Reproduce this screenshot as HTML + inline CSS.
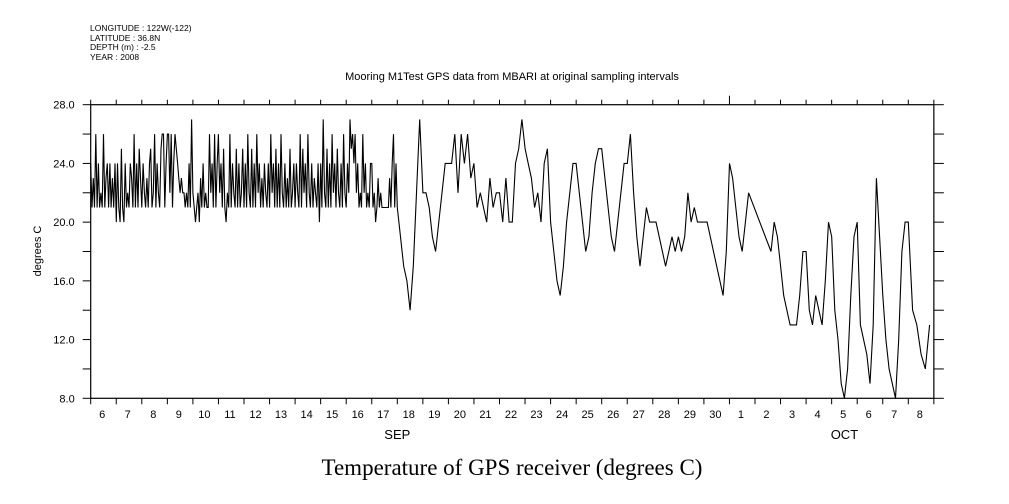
<!DOCTYPE html>
<html><head><meta charset="utf-8"><style>
body{margin:0;background:#fff;}
svg{display:block;font-family:"Liberation Sans",sans-serif;}
</style></head><body>
<svg width="1009" height="504" viewBox="0 0 1009 504">
<g font-size="8.5" fill="#000">
<text x="90" y="31">LONGITUDE : 122W(-122)</text>
<text x="90" y="41">LATITUDE : 36.8N</text>
<text x="90" y="50">DEPTH (m) : -2.5</text>
<text x="90" y="60">YEAR : 2008</text>
</g>
<text x="512" y="80" font-size="11" text-anchor="middle">Mooring M1Test GPS data from MBARI at original sampling intervals</text>
<text x="0" y="0" font-size="11" text-anchor="middle" transform="translate(41,251) rotate(-90)">degrees C</text>
<text x="512" y="475" font-family="Liberation Serif, serif" font-size="23" text-anchor="middle">Temperature of GPS receiver (degrees C)</text>
<g id="axes"></g>
<path id="series" fill="none" stroke="#000" stroke-width="1.1"/>
</svg>
<script>
const yTicks=[8,12,16,20,24,28];
const dayLabels=['6','7','8','9','10','11','12','13','14','15','16','17','18','19','20','21','22','23','24','25','26','27','28','29','30','1','2','3','4','5','6','7','8'];
const monthLabels=['SEP','OCT'];
const monthDays=[12,29.5];
const dailyTemps=[
[24,21,23,21,26,21,24,21,22,21,26,21,23,24,21,24,21,23,21,24],
[20,24,21,20,25,21,20,24,21,22,21,24,23,21,26,21,24,21,25,23],
[21,24,22,21,23,21,24,25,21,22,26,21,24,22,21,25,26,26,21,24],
[26,26,22,26,21,24,26,25,24,23,22,23,22,22,21,22,21,24,21,27],
[22,21,20,21,22,20,23,21,24,21,22,21,21,26,22,24,21,26,21,24],
[26,22,24,21,25,21,20,22,21,26,21,24,22,21,25,21,24,21,22,25],
[21,24,21,26,22,21,25,21,24,21,26,22,24,21,23,21,24,22,21,24],
[21,26,22,24,21,25,21,24,21,26,22,21,24,21,23,21,25,21,22,24],
[21,24,22,21,26,21,25,22,24,21,26,22,21,24,21,23,22,21,24,20],
[24,21,27,22,21,25,21,24,21,26,22,24,21,25,22,21,24,21,26,22],
[21,24,22,27,25,26,24,26,22,24,21,22,21,26,22,24,21,22,21,24],
[24,21,22,20,21,23,21,22,21,21,21,21,21,21,23,21,24,26,21,24],
[21,19,17,16,14,17,22,27],
[22,22,21,19,18,20,22,24],
[24,24,26,22,26,24,26,23],
[24,21,22,21,20,23,21,22],
[22,20,23,20,20,24,25,27],
[25,24,23,21,22,20,24,25],
[20,18,16,15,17,20,22,24],
[24,22,20,18,19,22,24,25],
[25,23,21,19,18,20,22,24],
[24,26,22,19,17,19,21,20],
[20,20,19,18,17,18,19,18],
[19,18,19,22,20,21,20,20],
[20,20,19,18,17,16,15,18],
[24,23,21,19,18,20,22,null],
[null,null,null,null,null,18,20,19],
[17,15,14,13,13,13,15,18],
[18,14,13,15,14,13,16,20],
[19,14,12,9,8,10,15,19],
[20,13,12,11,9,13,23,19],
[15,12,10,9,8,12,18,20],
[20,14,13,11,10,13]
];
const X0=90.7,DX=25.55,Y0=398.3,DY=14.68;
const xs=t=>X0+DX*t;
const ys=v=>Y0-(v-8)*DY;
const NS='http://www.w3.org/2000/svg';
const ax=document.getElementById('axes');
function mk(tag,attrs,parent){const e=document.createElementNS(NS,tag);for(const k in attrs)e.setAttribute(k,attrs[k]);(parent||ax).appendChild(e);return e;}
const L=xs(0),R=xs(33),T=ys(28),B=ys(8);
const frame=mk('rect',{x:L,y:T,width:R-L,height:B-T,fill:'none',stroke:'#000','stroke-width':1.2});


for(let v=8;v<=28;v+=2){
 const y=ys(v);
 const a=mk('line',{x1:L-8,x2:L,y1:y,y2:y,stroke:'#000'});
 
 
 const b=mk('line',{x1:R,x2:R+10,y1:y,y2:y,stroke:'#000'});
 
 
}
yTicks.forEach(v=>{
 const t=mk('text',{x:L-16,y:ys(v)+4,'font-size':11,'text-anchor':'end'});
 t.textContent=v.toFixed(1);
 
 
});
for(let d=0;d<=33;d++){
 const x=xs(d);
 const a=mk('line',{x1:x,x2:x,y1:B,y2:B+6,stroke:'#000'});
 
 
 const b=mk('line',{x1:x,x2:x,y1:d===25?T-9:T-5,y2:T,stroke:'#000'});
 
 
}
dayLabels.forEach((s,i)=>{
 const t=mk('text',{x:xs(i+0.45),y:418,'font-size':11,'text-anchor':'middle'});
 t.textContent=s;
 
 
});
monthLabels.forEach((s,i)=>{
 const t=mk('text',{x:xs(monthDays[i]),y:439,'font-size':13,'text-anchor':'middle'});
 t.textContent=s;
 
 
});
let d='';
dailyTemps.forEach((arr,day)=>{arr.forEach((v,i)=>{if(v===null)return;const t=day+i/arr.length;d+=(d?'L':'M')+xs(t).toFixed(1)+','+ys(v).toFixed(1);});});
document.getElementById('series').setAttribute('d',d);
</script>
</body></html>
